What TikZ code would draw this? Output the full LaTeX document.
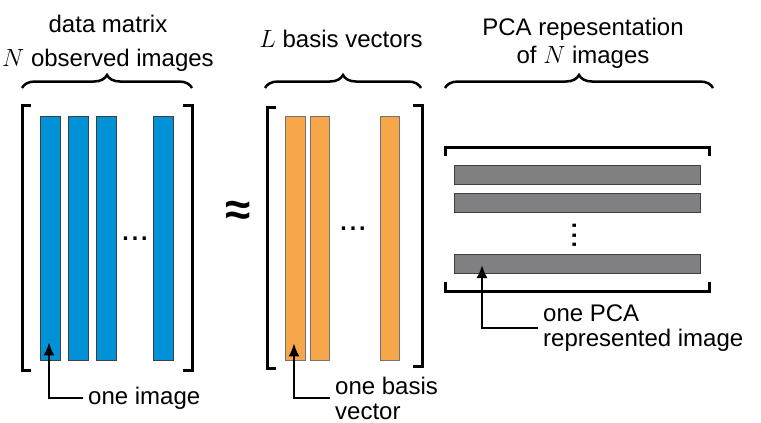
\documentclass[tikz,border=0pt]{standalone}
\usepackage{amsmath, amssymb}
\usepackage{fontspec}
\setmainfont{Liberation Sans}
\usepackage{xcolor}
\usetikzlibrary{calc, positioning, decorations.pathreplacing, arrows.meta}

\definecolor{imgblue}{RGB}{0,146,214}
\definecolor{basisorange}{RGB}{247,166,73}
\definecolor{pcagray}{RGB}{128,128,130}

\tikzset{
    bluebar/.style={draw=black!75, fill=imgblue, line width=0.8pt, inner sep=0pt,
        minimum width=20pt, minimum height=244pt},
    orangebar/.style={draw=black!55, fill=basisorange, line width=0.8pt, inner sep=0pt,
        minimum width=19.5pt, minimum height=244pt},
    graybar/.style={draw=black!75, fill=pcagray, line width=0.8pt, inner sep=0pt,
        minimum width=246pt, minimum height=19pt},
    bracket/.style={line width=3pt},
    curly/.style={decorate, decoration={brace, amplitude=13pt}, line width=2.5pt},
    pointer/.style={line width=2pt, -{Latex[length=13pt, width=11pt]}},
    title/.style={align=center, inner sep=0pt},
    dotsnode/.style={inner sep=0pt, font=\fontsize{34}{34}\selectfont},
    callout/.style={align=left, anchor=west, inner xsep=5pt, inner ysep=1pt,
        font=\fontsize{24}{25}\selectfont}
}

\begin{document}
\begin{tikzpicture}[x=1pt, y=-1pt]
    \useasboundingbox (0,0) rectangle (761,423);

    % Titles
    \node[title, anchor=north, font=\fontsize{24}{34}\selectfont] (datatitle) at (108,15)
        {data matrix\\$N$ observed images};
    \node[title, anchor=base, font=\fontsize{24}{28}\selectfont] (basistitle) at (341,47)
        {$L$ basis vectors};
    \node[title, anchor=north, font=\fontsize{24}{28}\selectfont] (pcatitle) at (583,18)
        {PCA repesentation\\of $N$ images};

    % Braces
    \draw[curly] (22,88) -- (192,88);
    \draw[curly] (265,88) -- (421,88);
    \draw[curly] (445,88) -- (713,88);

    % Data matrix
    \draw[bracket] (31,105) -| (22,370) -- (31,370);
    \draw[bracket] (183,105) -| (192,370) -- (183,370);
    \foreach \name/\x in {img1/50, img2/78, img3/106.5, img4/163} {
        \node[bluebar] (\name) at (\x,238) {};
    }
    \node[dotsnode, anchor=base] (imgdots) at (135,240) {...};

    % Approximately equal
    \node[inner sep=0pt] (approx) at (238,213) {\fontsize{46}{46}\selectfont\textbf{≈}};

    % Basis vectors
    \draw[bracket] (276,107) -| (267,368) -- (276,368);
    \draw[bracket] (413,105) -| (422,366) -- (413,366);
    \foreach \name/\x in {vec1/295.5, vec2/320, vec3/390} {
        \node[orangebar] (\name) at (\x,238) {};
    }
    \node[dotsnode, anchor=base] (vecdots) at (353,230) {...};

    % PCA representation
    \draw[bracket] (445,156) |- (709,147) -- (709,156);
    \draw[bracket] (445,282) |- (709,291) -- (709,282);
    \foreach \name/\y in {rep1/174.5, rep2/202.5, rep3/263.5} {
        \node[graybar] (\name) at (577,\y) {};
    }
    \node[dotsnode, rotate=90, anchor=base] (repdots) at (576,235.5) {...};

    % Callouts
    \coordinate (imgtip) at ($(img1.south)+(-1,-18)$);
    \coordinate (vectip) at ($(vec1.south)+(-1.5,-17)$);
    \coordinate (reptip) at (482,265);
    \node[callout] (imglabel) at (83,398) {one image};
    \node[callout] (veclabel) at (330,398) {one basis\\vector};
    \node[callout] (replabel) at (538,328) {one PCA\\represented image};
    \draw[pointer] (imglabel.west) -| (imgtip);
    \draw[pointer] (veclabel.west) -| (vectip);
    \draw[pointer] (replabel.west) -| (reptip);
\end{tikzpicture}
\end{document}
